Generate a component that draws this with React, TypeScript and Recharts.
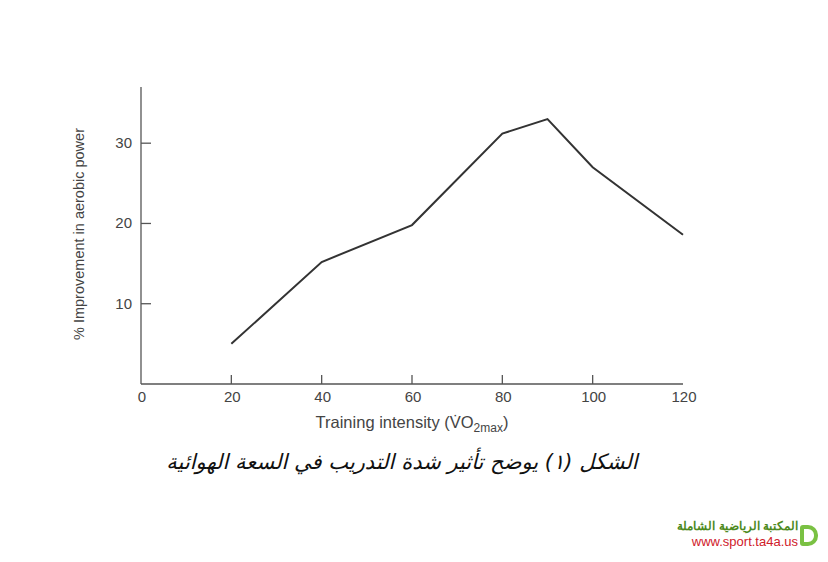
import React from 'react';
import { LineChart, Line, XAxis, YAxis } from 'recharts';

// training intensity (% VO2max) and % improvement
const intensity = [20, 40, 60, 80, 90, 100, 120];
const improvement = [5, 15.2, 19.8, 31.2, 33, 27, 18.6];
const xTicks = [0, 20, 40, 60, 80, 100, 120];
const yTicks = [10, 20, 30];

const caption = 'الشكل (١) يوضح تأثير شدة التدريب في السعة الهوائية';
const logoTitle = 'المكتبة الرياضية الشاملة';
const logoUrl = 'www.sport.ta4a.us';

const data = intensity.map((x, i) => ({ x, y: improvement[i] }));

const AXIS = '#555';
const TEXT = '#444';
const FONT = '"Liberation Sans", Arial, sans-serif';

const XTick = (props: any) => {
    const { x, y, payload } = props;
    const axisY = y - 7;
    const v = payload.value;
    return (
        <g>
            {v !== 0 && v !== 120 && (
                <line x1={x} x2={x} y1={axisY} y2={axisY - 9} stroke={AXIS} strokeWidth={1.3} />
            )}
            <text x={x + 1} y={axisY + 18} textAnchor="middle" fontSize={15} fill={TEXT} fontFamily={FONT}>
                {v}
            </text>
        </g>
    );
};

const YTick = (props: any) => {
    const { x, y, payload } = props;
    const axisX = x + 9;
    return (
        <g>
            <line x1={axisX} x2={axisX + 10} y1={y} y2={y} stroke={AXIS} strokeWidth={1.3} />
            <text x={axisX - 9} y={y + 5} textAnchor="end" fontSize={15} fill={TEXT} fontFamily={FONT}>
                {payload.value}
            </text>
        </g>
    );
};

export default function App() {
    return (
        <div style={{ position: 'absolute', left: 0, top: 0, width: 828, height: 562, background: '#fff' }}>
            <LineChart
                width={828}
                height={562}
                data={data}
                margin={{ top: 87, right: 145, left: 81, bottom: 138 }}
            >
                <XAxis
                    type="number"
                    dataKey="x"
                    domain={[0, 120]}
                    ticks={xTicks}
                    height={40}
                    tickSize={0}
                    tickMargin={7}
                    tickLine={false}
                    tick={<XTick />}
                    stroke={AXIS}
                    strokeWidth={1.3}
                    interval={0}
                />
                <YAxis
                    type="number"
                    domain={[0, 37]}
                    ticks={yTicks}
                    width={60}
                    tickSize={0}
                    tickMargin={9}
                    tickLine={false}
                    tick={<YTick />}
                    stroke={AXIS}
                    strokeWidth={1.3}
                    interval={0}
                />
                <Line
                    type="linear"
                    dataKey="y"
                    stroke="#333"
                    strokeWidth={2}
                    dot={false}
                    isAnimationActive={false}
                />
            </LineChart>

            {/* axis titles */}
            <svg width={828} height={562} style={{ position: 'absolute', left: 0, top: 0, pointerEvents: 'none' }}>
                <text
                    x={0}
                    y={0}
                    transform="translate(84 234) rotate(-90)"
                    textAnchor="middle"
                    fontSize={14.5}
                    fill={TEXT}
                    fontFamily={FONT}
                >
                    % Improvement in aerobic power
                </text>
                <text x={412} y={428} textAnchor="middle" fontSize={16.5} fill={TEXT} fontFamily={FONT}>
                    Training intensity (V̇O
                    <tspan fontSize={12} dy={4}>2max</tspan>
                    <tspan dy={-4}>)</tspan>
                </text>
            </svg>

            {/* caption */}
            <div
                dir="rtl"
                style={{
                    position: 'absolute',
                    left: 0,
                    width: 804,
                    top: 450,
                    textAlign: 'center',
                    fontFamily: '"DejaVu Sans", sans-serif',
                    fontStyle: 'italic',
                    fontSize: 21,
                    color: '#111',
                }}
            >
                {caption}
            </div>

            {/* site logo */}
            <div
                style={{
                    position: 'absolute',
                    left: 650,
                    top: 518,
                    width: 148,
                    textAlign: 'right',
                    fontFamily: FONT,
                    lineHeight: '16px',
                    whiteSpace: 'nowrap',
                }}
            >
                <div dir="rtl" style={{ color: '#4d8a1e', fontWeight: 'bold', fontSize: 12 }}>{logoTitle}</div>
                <div style={{ color: '#d0202a', fontSize: 13 }}>{logoUrl}</div>
            </div>
            <div
                style={{
                    position: 'absolute',
                    left: 800,
                    top: 525,
                    width: 10,
                    height: 13,
                    border: '4px solid #7ac143',
                    borderRadius: '3px 10px 10px 3px',
                }}
            />
        </div>
    );
}
